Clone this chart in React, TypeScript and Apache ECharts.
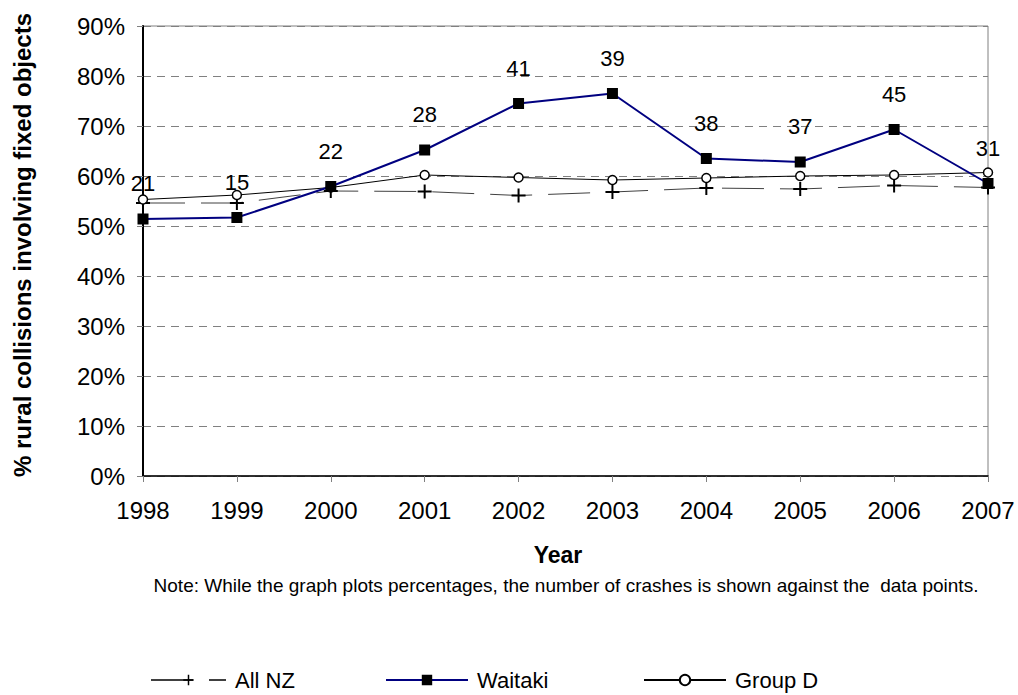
import React, { useEffect, useRef } from "react";
import * as echarts from "echarts";

const years = ["1998", "1999", "2000", "2001", "2002", "2003", "2004", "2005", "2006", "2007"];
const allNZ = [0.546, 0.546, 0.57, 0.569, 0.561, 0.568, 0.576, 0.574, 0.581, 0.577];
const waitaki = [0.514, 0.517, 0.579, 0.652, 0.745, 0.765, 0.635, 0.628, 0.693, 0.585];
const groupD = [0.553, 0.562, 0.577, 0.602, 0.597, 0.592, 0.596, 0.6, 0.602, 0.607];
const waitakiCrashes = [21, 15, 22, 28, 41, 39, 38, 37, 45, 31];

const FONT = "'Liberation Sans', Arial, sans-serif";
const PLUS = "path://M6,0 H8 V6 H14 V8 H8 V14 H6 V8 H0 V6 H6 Z";

export default function App() {
  const ref = useRef<HTMLDivElement>(null);
  useEffect(() => {
    if (!ref.current) return;
    const chart = echarts.init(ref.current, null, { renderer: "svg" });
    const legendBase = {
      top: 664,
      itemWidth: 75,
      itemHeight: 13,
      textStyle: { fontFamily: FONT, fontSize: 22, color: "#000", padding: [0, 0, 0, 4], lineHeight: 22 },
    };
    chart.setOption({
      animation: false,
      backgroundColor: "#fff",
      textStyle: { fontFamily: FONT },
      grid: {
        left: 143,
        right: 30,
        top: 26,
        bottom: 219,
        show: true,
        borderColor: "#808080",
        borderWidth: 1,
        containLabel: false,
      },
      legend: [
        { ...legendBase, left: 145, data: ["All NZ"] },
        { ...legendBase, left: 380, itemWidth: 82, data: ["Waitaki"] },
        { ...legendBase, left: 638, itemWidth: 82, data: ["Group D"] },
      ],
      xAxis: {
        type: "category",
        data: years,
        boundaryGap: false,
        axisLine: { show: true, lineStyle: { color: "#000", width: 1.5 } },
        axisTick: { show: true, length: 6, lineStyle: { color: "#808080" } },
        axisLabel: { fontFamily: FONT, fontSize: 24, color: "#000", margin: 22 },
        splitLine: { show: false },
      },
      yAxis: {
        type: "value",
        min: 0,
        max: 0.9,
        interval: 0.1,
        axisLine: { show: true, lineStyle: { color: "#000", width: 2 } },
        axisTick: { show: true, length: 6, lineStyle: { color: "#808080" } },
        axisLabel: {
          fontFamily: FONT,
          fontSize: 24,
          color: "#000",
          margin: 18,
          formatter: (v: number) => Math.round(v * 100) + "%",
        },
        splitLine: { show: true, lineStyle: { color: "#808080", type: [8, 6], width: 1 } },
      },
      series: [
        {
          name: "All NZ",
          type: "line",
          data: allNZ,
          symbol: PLUS,
          symbolSize: 14,
          showAllSymbol: true,
          itemStyle: { color: "#000" },
          lineStyle: { color: "#404040", width: 1, type: [42, 16] },
          z: 2,
        },
        {
          name: "Group D",
          type: "line",
          data: groupD,
          symbol: "circle",
          symbolSize: 9,
          showAllSymbol: true,
          itemStyle: { color: "#fff", borderColor: "#000", borderWidth: 1.5 },
          lineStyle: { color: "#000", width: 1 },
          z: 3,
        },
        {
          name: "Waitaki",
          type: "line",
          data: waitaki,
          symbol: "rect",
          symbolSize: 11,
          showAllSymbol: true,
          itemStyle: { color: "#000" },
          lineStyle: { color: "#000080", width: 2 },
          label: {
            show: true,
            position: "top",
            distance: 19,
            fontFamily: FONT,
            fontSize: 22,
            color: "#000",
            formatter: (p: any) => String(waitakiCrashes[p.dataIndex]),
          },
          z: 4,
        },
      ],
      graphic: [
        {
          type: "text",
          x: 22,
          y: 245,
          rotation: Math.PI / 2,
          style: {
            text: "% rural collisions involving fixed objects",
            fontFamily: FONT,
            fontSize: 24,
            fontWeight: "bold",
            fill: "#000",
            align: "center",
            verticalAlign: "middle",
          },
        },
        {
          type: "text",
          x: 558,
          y: 555,
          style: {
            text: "Year",
            fontFamily: FONT,
            fontSize: 23,
            fontWeight: "bold",
            fill: "#000",
            align: "center",
            verticalAlign: "middle",
          },
        },
        {
          type: "text",
          x: 566,
          y: 585,
          style: {
            text: "Note: While the graph plots percentages, the number of crashes is shown against the  data points.",
            fontFamily: FONT,
            fontSize: 19,
            fill: "#000",
            align: "center",
            verticalAlign: "middle",
          },
        },
      ],
    });
    return () => chart.dispose();
  }, []);
  return (
    <div
      ref={ref}
      style={{ position: "absolute", left: 0, top: 0, width: 1018, height: 695 }}
    />
  );
}
